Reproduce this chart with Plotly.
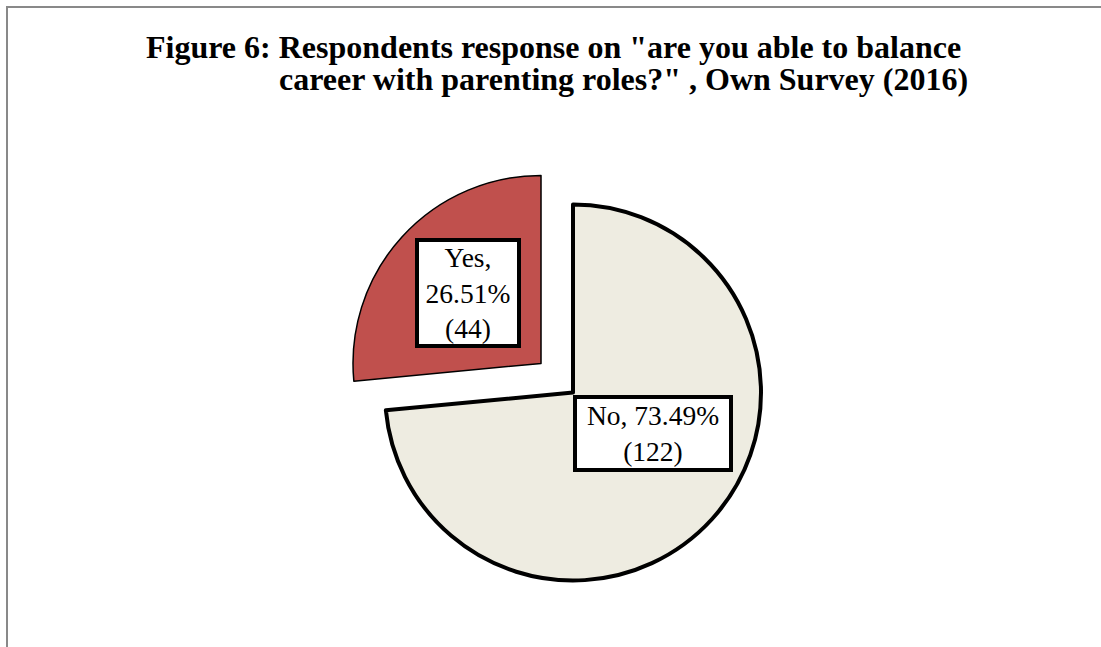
import math
import plotly.graph_objects as go

labels = ["No", "Yes"]
values = [73.49, 26.51]
counts = [122, 44]
colors = ["#EEECE1", "#C0504D"]
pulls = [0, 0.23]
line_widths = [4, 1.5]

title_line1 = "Figure 6: Respondents response on \"are you able to balance"
title_line2 = "career with parenting roles?\" , Own Survey (2016)"

W, H = 1101, 647
OFF = 0  # body margin removed via post_script


def px2x(px):
    return (px - OFF) / W


def py2y(py):
    return 1 - (py - OFF) / H


# pie layout in page pixels
cx, cy = 573, 392.5
r_target = 188
maxpull = max(pulls)
half = r_target * (1 + maxpull)

fig = go.Figure()
fig.add_trace(go.Pie(
    labels=labels, values=values, sort=False, direction="clockwise", rotation=0,
    pull=pulls, textinfo="none", hoverinfo="label+percent",
    marker=dict(colors=colors, line=dict(color="#000000", width=line_widths)),
    domain=dict(x=[px2x(cx - half), px2x(cx + half)], y=[py2y(cy + half), py2y(cy - half)]),
    showlegend=False,
))

# label placement derived from the slice geometry
r = r_target
total = sum(values)
label_frac = [0.48, 0.54]
label_shift = [-15, 1.5]
box_w = [152, 98]
box_h = [69, 102]
texts = [f"{labels[0]}, {values[0]:.2f}%<br>({counts[0]})",
         f"{labels[1]},<br>{values[1]:.2f}%<br>({counts[1]})"]
start = 0.0
for i, v in enumerate(values):
    span = v / total * 360
    mid = math.radians(start + span / 2)
    pull_px = pulls[i] * r
    ang = math.radians(start + span / 2 + label_shift[i])
    lx = cx + pull_px * math.sin(mid) + label_frac[i] * r * math.sin(ang)
    ly = cy - pull_px * math.cos(mid) - label_frac[i] * r * math.cos(ang)
    fig.add_annotation(
        x=px2x(lx), y=py2y(ly), xref="paper", yref="paper", showarrow=False,
        xanchor="center", yanchor="middle",
        text=texts[i], align="center", width=box_w[i], height=box_h[i],
        bgcolor="#FFFFFF", bordercolor="#000000", borderwidth=4, borderpad=0,
        font=dict(family="Liberation Serif", size=27.5, color="#000000"),
    )
    start += span

fig.add_annotation(x=px2x(144), y=py2y(47.5), xref="paper", yref="paper", showarrow=False,
                   xanchor="left", yanchor="middle", text=f"<b>{title_line1}</b>",
                   font=dict(family="Liberation Serif", size=32, color="#000000"))
fig.add_annotation(x=px2x(277), y=py2y(78.5), xref="paper", yref="paper", showarrow=False,
                   xanchor="left", yanchor="middle", text=f"<b>{title_line2}</b>",
                   font=dict(family="Liberation Serif", size=32, color="#000000"))

fig.add_shape(type="rect", xref="paper", yref="paper",
              x0=px2x(7), y0=-0.1, x1=1.1, y1=py2y(7),
              line=dict(color="#898989", width=2), fillcolor="rgba(0,0,0,0)")

fig.update_layout(
    width=W, height=H, margin=dict(l=0, r=0, t=0, b=0),
    paper_bgcolor="#FFFFFF", plot_bgcolor="#FFFFFF",
)
fig.write_html("out.html", config={"displayModeBar": False},
               post_script="document.body.style.margin='0';document.body.style.overflow='hidden';")
